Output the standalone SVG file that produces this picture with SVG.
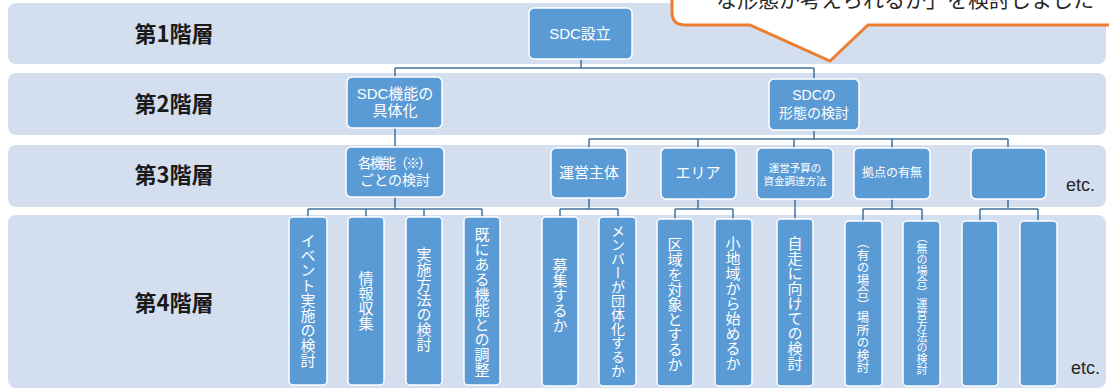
<svg xmlns="http://www.w3.org/2000/svg" width="1109" height="390" viewBox="0 0 1109 390">
<style>
.band{fill:#D3DEEF}
.lbl{font-family:"Noto Sans CJK JP",sans-serif;font-size:22px;font-weight:bold;fill:#1a1a1a;text-anchor:middle}
.etc{font-family:"Liberation Sans",sans-serif;font-size:18px;fill:#262626}
.node rect{fill:#5B9BD5;stroke:#fff;stroke-width:1.5}
.t{font-family:"Liberation Sans","Noto Sans CJK JP",sans-serif;fill:#fff;text-anchor:middle}
.v{font-family:"Noto Sans CJK JP",sans-serif;fill:#fff;text-anchor:middle;writing-mode:vertical-rl;font-size:15px}
.v.s14{font-size:14px}
.v.s12{font-size:12.5px}
.v.s11{font-size:11px}
.conn path{fill:none;stroke:#41719C;stroke-width:1.5}
</style>
<rect width="1109" height="390" fill="#fff"/>
<g id="bands">
<rect class="band" x="8" y="3" width="1098" height="61" rx="8"/>
<rect class="band" x="8" y="73" width="1098" height="62" rx="8"/>
<rect class="band" x="8" y="145" width="1098" height="62" rx="8"/>
<rect class="band" x="8" y="215" width="1098" height="173" rx="8"/>
</g>
<g id="labels">
<text class="lbl" x="174" y="42">第1階層</text>
<text class="lbl" x="174" y="112">第2階層</text>
<text class="lbl" x="174" y="183">第3階層</text>
<text class="lbl" x="174" y="311">第4階層</text>
<text class="etc" x="1066" y="191">etc.</text>
<text class="etc" x="1071" y="374">etc.</text>
</g>
<g id="callout">
<path d="M672,-10 V12 Q672,25 685,25 H750 L830,61 L868,25 H1120 V-10 Z" fill="#fff" stroke="#ED7D31" stroke-width="3" stroke-linejoin="miter"/>
<text x="716" y="7" font-family="Noto Sans CJK JP,sans-serif" font-size="21" fill="#262626">な形態が考えられるか」を検討しました</text>
</g>
<g class="conn" id="connectors">
<path d="M581,59 V68 M395,68 H814 M395,68 V77 M814,68 V79"/>
<path d="M395,128 V147"/>
<path d="M814,130 V139 M589,139 H1008 M589,139 V148 M698,139 V148 M794,139 V148 M892,139 V148 M1008,139 V148"/>
<path d="M395,197 V209 M308,209 H482 M308,209 V217 M366,209 V217 M424,209 V217 M482,209 V217"/>
<path d="M589,198 V209 M560,209 H618 M560,209 V217 M618,209 V217"/>
<path d="M698,199 V209 M675,209 H733 M675,209 V219 M733,209 V219"/>
<path d="M795,199 V219"/>
<path d="M892,199 V209 M863,209 H922 M863,209 V221 M922,209 V221"/>
<path d="M1008,199 V209 M980,209 H1038 M980,209 V221 M1038,209 V221"/>
</g>
<g class="node" id="n-sdc"><rect x="529" y="8" width="103" height="51" rx="5"/><text class="t" x="580" y="39" font-size="15">SDC設立</text></g>
<g class="node" id="n-func"><rect x="347" y="77" width="95" height="51" rx="5"/><text class="t" x="395" y="99" font-size="15">SDC機能の</text><text class="t" x="395" y="116" font-size="15">具体化</text></g>
<g class="node" id="n-form"><rect x="769" y="79" width="90" height="51" rx="5"/><text class="t" x="814" y="100" font-size="14">SDCの</text><text class="t" x="814" y="118" font-size="14">形態の検討</text></g>
<g class="node" id="n-each"><rect x="346" y="147" width="98" height="50" rx="5"/><text class="t" x="395" y="168" font-size="14" textLength="74" lengthAdjust="spacing">各機能（※）</text><text class="t" x="395" y="185" font-size="14">ごとの検討</text></g>
<g class="node" id="n-body"><rect x="551" y="148" width="76" height="50" rx="5"/><text class="t" x="589" y="178" font-size="15">運営主体</text></g>
<g class="node" id="n-area"><rect x="661" y="148" width="75" height="51" rx="5"/><text class="t" x="698" y="178" font-size="15">エリア</text></g>
<g class="node" id="n-budget"><rect x="757" y="148" width="76" height="51" rx="5"/><text class="t" x="795" y="172" font-size="10.5">運営予算の</text><text class="t" x="795" y="185" font-size="10.5">資金調達方法</text></g>
<g class="node" id="n-base"><rect x="854" y="148" width="76" height="51" rx="5"/><text class="t" x="892" y="176.5" font-size="12">拠点の有無</text></g>
<g class="node" id="n-blank3"><rect x="971" y="148" width="75" height="51" rx="5"/></g>
<g class="node" id="n4-1"><rect x="289" y="217" width="38" height="168" rx="4"/><text class="v" x="308" y="300">イベント実施の検討</text></g>
<g class="node" id="n4-2"><rect x="348" y="217" width="36" height="168" rx="4"/><text class="v" x="366" y="301">情報収集</text></g>
<g class="node" id="n4-3"><rect x="406" y="217" width="36" height="168" rx="4"/><text class="v" x="424" y="299">実施方法の検討</text></g>
<g class="node" id="n4-4"><rect x="464" y="217" width="36" height="168" rx="4"/><text class="v" x="482" y="301.5">既にある機能との調整</text></g>
<g class="node" id="n4-5"><rect x="542" y="217" width="36" height="169" rx="4"/><text class="v" x="560" y="295">募集するか</text></g>
<g class="node" id="n4-6"><rect x="599" y="217" width="37" height="169" rx="4"/><text class="v s14" x="618" y="301">メンバーが団体化するか</text></g>
<g class="node" id="n4-7"><rect x="657" y="219" width="36" height="167" rx="4"/><text class="v" x="675" y="304">区域を対象とするか</text></g>
<g class="node" id="n4-8"><rect x="715" y="219" width="37" height="167" rx="4"/><text class="v" x="733" y="303.5">小地域から始めるか</text></g>
<g class="node" id="n4-9"><rect x="777" y="219" width="36" height="167" rx="4"/><text class="v" x="795" y="303.5">自走に向けての検討</text></g>
<g class="node" id="n4-10"><rect x="845" y="221" width="37" height="165" rx="4"/><text class="v s12" x="863" y="305">（有の場合）場所の検討</text></g>
<g class="node" id="n4-11"><rect x="903" y="221" width="37" height="165" rx="4"/><text class="v s11" x="922" y="303.5">（無の場合）運営方法の検討</text></g>
<g class="node" id="n4-12"><rect x="962" y="221" width="36" height="165" rx="4"/></g>
<g class="node" id="n4-13"><rect x="1020" y="221" width="37" height="165" rx="4"/></g>
</svg>
